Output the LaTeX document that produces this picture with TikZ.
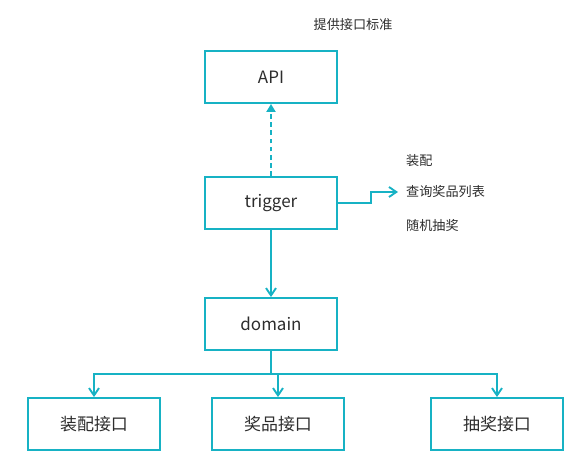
\documentclass[tikz,border=0pt]{standalone}
\usepackage{fontspec}
\setmainfont{Noto Sans CJK SC}
\usepackage{tikz}
\usetikzlibrary{arrows.meta}

\definecolor{lineteal}{RGB}{23,178,196}
\definecolor{textgray}{RGB}{45,45,45}

\begin{document}
\begin{tikzpicture}[x=0.03cm,y=-0.03cm]
            \useasboundingbox (0,0) rectangle (569,460);

            \begin{scope}[every node/.style={draw=lineteal,line width=1.6pt,rectangle,
                          minimum width=3.96cm,minimum height=1.56cm,inner sep=0pt,
                          text=textgray,font=\fontsize{14.5}{17}\selectfont}]
                \node (api) at (271,77) {API};
                \node (trigger) at (271,203) {trigger};
                \node (domain) at (271,324) {domain};
                \node (zpjk) at (94,424) {装配接口};
                \node (jpjk) at (278,424) {奖品接口};
                \node (cjjk) at (497,424) {抽奖接口};
            \end{scope}

            \begin{scope}[every node/.style={text=textgray,inner ysep=0pt,inner xsep=0.24cm,
                          font=\fontsize{11.2}{13}\selectfont}]
                \node (standard) at (353,25) {提供接口标准};
                \node (assemble) [anchor=west] at (398,161) {装配};
                \node (prizelist) [anchor=west] at (398,192) {查询奖品列表};
                \node (lottery) [anchor=west] at (398,225) {随机抽奖};
            \end{scope}

            \coordinate (elbow) at (371,203);
            \coordinate (bus) at (271,374);

            \begin{scope}[>={Straight Barb[length=0.22cm,width=0.3cm]},
                          every path/.style={draw=lineteal,line width=1.6pt}]
                \path [-{Triangle[length=0.24cm,width=0.27cm]},dash pattern=on 4pt off 3pt]
                    (trigger) edge (api);
                \path [->] (trigger) edge (domain);
                \draw [->] (trigger.east) -- (elbow) |- (prizelist.west);
                \draw (domain.south) -- (bus);
                \draw [->] (bus) -| (zpjk.north);
                \draw [->] (bus) -| (jpjk.north);
                \draw [->] (bus) -| (cjjk.north);
            \end{scope}
        \end{tikzpicture}
\end{document}
